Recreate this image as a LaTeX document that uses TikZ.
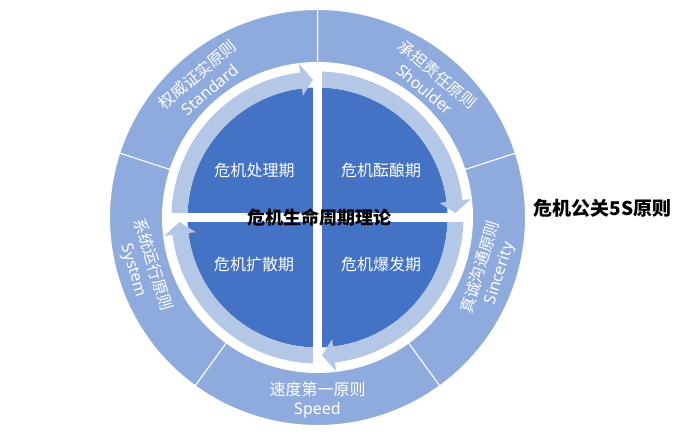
\documentclass[tikz,border=0pt]{standalone}
\usepackage{fontspec}
\setmainfont{Noto Sans}
\newfontfamily\cjk{Noto Sans CJK SC}
\definecolor{ringc}{HTML}{8FAADC}
\definecolor{bandc}{HTML}{B4C7E7}
\definecolor{darkc}{HTML}{4472C4}
\begin{document}
\begin{tikzpicture}[x=1pt,y=1pt,
  ringseg/.style={fill=ringc,draw=white,line width=1pt},
  bandarrow/.style={fill=bandc},
  phase/.style={text=white,font=\cjk\fontsize{16}{19}\selectfont,inner sep=0pt},
  ringlabel/.style={text=white,font=\fontsize{16}{19.5}\selectfont,inner sep=0pt,align=center},
  titletext/.style={text=black,font=\cjk\bfseries\fontsize{18}{21}\selectfont,inner sep=0pt}]
\useasboundingbox (-317.5,-219.5) rectangle (382.5,217.5);
% outer ring segments
\foreach \a/\b in {18/90,90/162,162/234,234/306,306/378}{
  \draw[ringseg] (\a:155pt) arc[start angle=\a,end angle=\b,radius=155pt]
    -- (\b:208pt) arc[start angle=\b,end angle=\a,radius=208pt] -- cycle;
}
% dark quadrants
\fill[darkc] (0,0) circle (130pt);
% circular arrows
\foreach \t/\h/\p in {180/96.87/91.87, 90/6.87/1.87, 0/-83.13/-88.13, -90/-173.13/-178.13}{
  \fill[bandarrow] (\t:130pt) arc[start angle=\t,end angle=\h,radius=130pt]
    -- (\h:122.5pt) -- (\p:138pt) -- (\h:154.5pt) -- (\h:146pt)
    arc[start angle=\h,end angle=\t,radius=146pt] -- cycle;
}
% white cross
\fill[white] (-4.5,-154) rectangle (4.5,154);
\fill[white] (-154,-4.5) rectangle (154,4.5);
% phase labels
\node[phase] (p1) at (-63,47.5) {危机处理期};
\node[phase] (p2) at (63.5,47.5) {危机酝酿期};
\node[phase] (p3) at (-63.5,-47) {危机扩散期};
\node[phase] (p4) at (63.5,-47) {危机爆发期};
% ring labels
\node[ringlabel,rotate=40] (s1) at (130:177.5pt) {{\cjk 权威证实原则}\\Standard};
\node[ringlabel,rotate=-40] (s2) at (50:177.5pt) {{\cjk 承担责任原则}\\Shoulder};
\node[ringlabel,rotate=73] (s3) at (343:180.5pt) {{\cjk 真诚沟通原则}\\Sincerity};
\node[ringlabel] (s4) at (270:182.5pt) {{\cjk 速度第一原则}\\Speed};
\node[ringlabel,rotate=-73] (s5) at (196:181.5pt) {{\cjk 系统运行原则}\\System};
% titles
\node[titletext] (t1) at (2,-0.5) {危机生命周期理论};
\node[titletext,font=\cjk\bfseries\fontsize{19}{23}\selectfont] (t2) at (285,9) {危机公关5S原则};
\end{tikzpicture}
\end{document}
